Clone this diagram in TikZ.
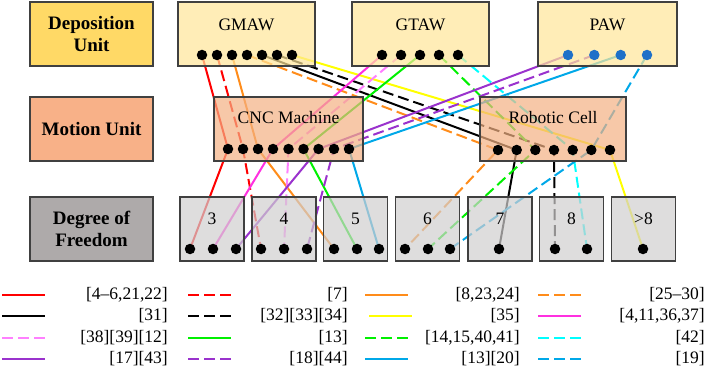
\documentclass[tikz,border=0pt]{standalone}
\usepackage{fontspec}
\setmainfont{Liberation Serif}
\usetikzlibrary{positioning}
\pgfdeclarelayer{wires}
\pgfsetlayers{wires,main}
\definecolor{amGold}{HTML}{FFD966}
\definecolor{amCream}{HTML}{FFE699}
\definecolor{amPeach}{HTML}{F8B188}
\definecolor{amSalmon}{HTML}{F4B183}
\definecolor{amAsh}{HTML}{AEAAAA}
\definecolor{amSilver}{HTML}{D0CECE}
\definecolor{amEdge}{HTML}{404040}
\definecolor{amPawDot}{HTML}{1F70C8}
\definecolor{amRed}{HTML}{FF0000}
\definecolor{amOrange}{HTML}{FF8C1A}
\definecolor{amYellow}{HTML}{FFFF00}
\definecolor{amMagenta}{HTML}{FF30E0}
\definecolor{amPink}{HTML}{FF80FF}
\definecolor{amGreen}{HTML}{00F000}
\definecolor{amCyan}{HTML}{00FFFF}
\definecolor{amBlue}{HTML}{00A8E8}
\definecolor{amPurple}{HTML}{9A32CD}
\tikzset{
  am head/.style={draw=amEdge, line width=1.2pt, minimum width=123pt, minimum height=64pt, inner sep=0pt, align=center, font=\fontsize{19}{21.5}\selectfont\bfseries},
  am box/.style={draw=amEdge, line width=1.2pt, fill opacity=0.7, text opacity=1, minimum height=64pt, inner sep=0pt},
  am name/.style={inner sep=0pt, font=\fontsize{17.5}{20}\selectfont},
  am dot/.style={circle, fill=black, minimum size=10.5pt, inner sep=0pt},
  am wire/.style={line width=2pt},
  am dash/.style={am wire, dash pattern=on 11pt off 5pt},
  red wire/.style={am wire, draw=amRed},
  red dash/.style={am dash, draw=amRed},
  orange wire/.style={am wire, draw=amOrange},
  orange dash/.style={am dash, draw=amOrange},
  black wire/.style={am wire, draw=black},
  black dash/.style={am dash, draw=black},
  yellow wire/.style={am wire, draw=amYellow},
  magenta wire/.style={am wire, draw=amMagenta},
  pink dash/.style={am dash, draw=amPink},
  green wire/.style={am wire, draw=amGreen},
  green dash/.style={am dash, draw=amGreen},
  cyan dash/.style={am dash, draw=amCyan},
  purple wire/.style={am wire, draw=amPurple},
  purple dash/.style={am dash, draw=amPurple},
  blue wire/.style={am wire, draw=amBlue},
  blue dash/.style={am dash, draw=amBlue},
  am key/.style={anchor=east, inner sep=0pt, font=\fontsize{17.5}{20}\selectfont},
}
\begin{document}
\begin{tikzpicture}[x=1pt,y=-1pt]
  \useasboundingbox (0,0) rectangle (706,371);
  % row headers
  \node[am head, fill=amGold] (depo) at (91.5,34) {Deposition\\Unit};
  \node[am head, fill=amPeach] (motion) at (91.5,129) {Motion Unit};
  \node[am head, fill=amAsh] (dof) at (91.5,229) {Degree of\\Freedom};

  % deposition units
  \node[am box, fill=amCream, minimum width=137pt] (gmaw) at (246.5,34) {};
  \node[am name] at ([yshift=9pt]gmaw.center) {GMAW};
  \node[am box, fill=amCream, minimum width=137pt] (gtaw) at (420.5,34) {};
  \node[am name] at ([yshift=9pt]gtaw.center) {GTAW};
  \node[am box, fill=amCream, minimum width=139pt] (paw) at (607.5,34) {};
  \node[am name] at ([yshift=9pt]paw.center) {PAW};

  % motion units
  \node[am box, fill=amSalmon, minimum width=149pt] (cnc) at (288.5,129) {};
  \node[am name] at ([yshift=11pt]cnc.center) {CNC Machine};
  \node[am box, fill=amSalmon, minimum width=146pt] (robot) at (553,129) {};
  \node[am name] at ([yshift=11pt]robot.center) {Robotic Cell};

  % degrees of freedom
  \foreach \n/\x/\t in {3/212/3, 4/284/4, 5/355.5/5, 6/427.5/6, 7/500/7, 8/571.5/8, 9/643.5/>8}{
    \node[am box, fill=amSilver, minimum width=64pt] (dof\n) at (\x,229) {};
    \node[am name] at ([yshift=10pt]dof\n.center) {\t};
  }

  % dots
  \foreach \i/\x in {1/202,2/217,3/232,4/247,5/262,6/277,7/292}
    \node[am dot] (g\i) at (\x,55) {};
  \foreach \i/\x in {1/382,2/401,3/420,4/439,5/458}
    \node[am dot] (t\i) at (\x,55) {};
  \foreach \i/\x in {1/568,2/594.3,3/620.7,4/647}
    \node[am dot, fill=amPawDot] (p\i) at (\x,55) {};
  \foreach \i/\x in {1/228,2/243,3/258,4/273,5/288.5,6/303.5,7/318.5,8/334,9/349}
    \node[am dot] (c\i) at (\x,149) {};
  \foreach \i/\x in {1/498,2/516.7,3/535.3,4/554,5/572.7,6/591.3,7/610}
    \node[am dot] (r\i) at (\x,150) {};
  \foreach \n/\x in {3a/190,3b/213,3c/236,4a/261,4b/284,4c/307,5a/334,5b/357,5c/379,
                     6a/405,6b/428,6c/450,7a/499,8a/555,8b/587,9a/643}
    \node[am dot] (f\n) at (\x,249) {};

  % process chains, behind the boxes
  \begin{pgfonlayer}{wires}
    \draw[red wire] (g1.center) -- (c1.center) -- (f3a.center);
    \draw[red dash] (g2.center) -- (c2.center) -- (f4a.center);
    \draw[orange wire] (g3.center) -- (c3.center) -- (f5a.center);
    \draw[orange dash] (g4.center) -- (r1.center) -- (f6a.center);
    \draw[black wire] (g5.center) -- (r2.center) -- (f7a.center);
    \draw[black dash] (g6.center) -- (r4.center) -- (f8a.center);
    \draw[yellow wire] (g7.center) -- (r7.center) -- (f9a.center);
    \draw[magenta wire] (t1.center) -- (c4.center) -- (f3b.center);
    \draw[pink dash] (t2.center) -- (c5.center) -- (f4b.center);
    \draw[green wire] (t3.center) -- (c6.center) -- (f5b.center);
    \draw[green dash] (t4.center) -- (r3.center) -- (f6b.center);
    \draw[cyan dash] (t5.center) -- (r5.center) -- (f8b.center);
    \draw[purple wire] (p1.center) -- (c7.center) -- (f3c.center);
    \draw[purple dash] (p2.center) -- (c8.center) -- (f4c.center);
    \draw[blue wire] (p3.center) -- (c9.center) -- (f5c.center);
    \draw[blue dash] (p4.center) -- (r6.center) -- (f6c.center);
  \end{pgfonlayer}

  % legend
  \foreach \st/\x/\e/\y/\txt in {
      red wire/2/168/295/{[4--6,21,22]}, red dash/188/348/295/{[7]},
      orange wire/365/520/295/{[8,23,24]}, orange dash/538/705/295/{[25--30]},
      black wire/2/168/316/{[31]}, black dash/188/348/316/{[32][33][34]},
      yellow wire/369/520/316/{[35]}, magenta wire/538/705/316/{[4,11,36,37]},
      pink dash/2/168/338/{[38][39][12]}, green wire/188/348/338/{[13]},
      green dash/365/520/338/{[14,15,40,41]}, cyan dash/538/705/338/{[42]},
      purple wire/2/168/359/{[17][43]}, purple dash/188/348/359/{[18][44]},
      blue wire/365/520/359/{[13][20]}, blue dash/538/705/359/{[19]}}{
    \draw[\st] (\x,\y) -- ++(43,0);
    \node[am key] at (\e,\y) {\txt};
  }
\end{tikzpicture}
\end{document}
